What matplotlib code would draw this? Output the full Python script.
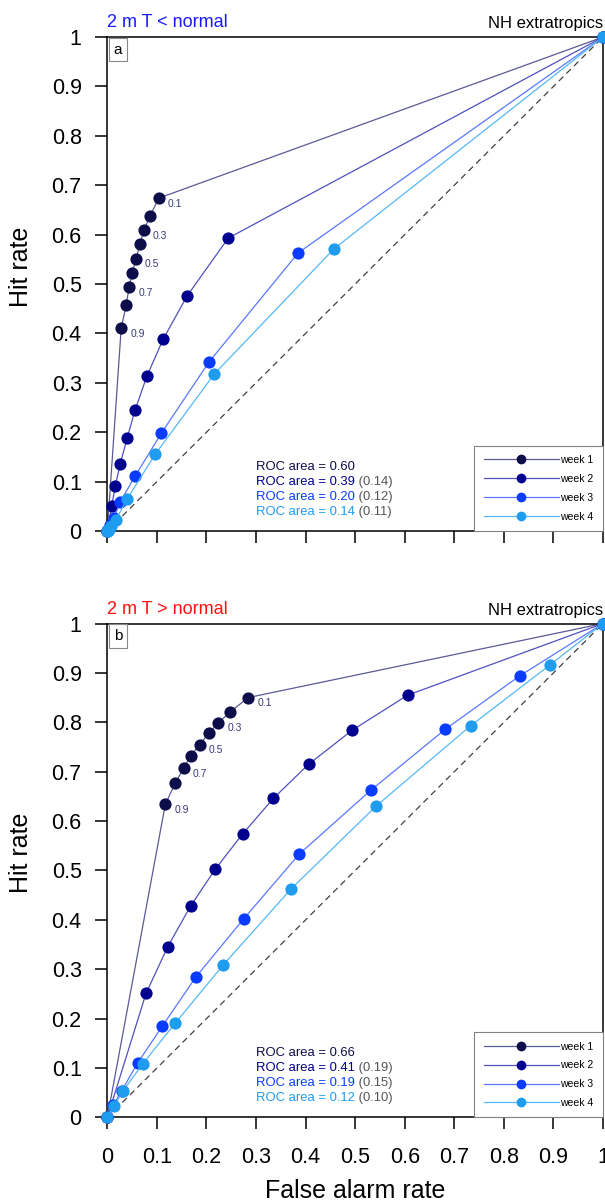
import numpy as np
import matplotlib.pyplot as plt
from matplotlib.lines import Line2D

plt.rcParams['font.family'] = ['Liberation Sans', 'DejaVu Sans']

weeks = ['week 1', 'week 2', 'week 3', 'week 4']
labelled = ['0.1', '0.3', '0.5', '0.7', '0.9']   # week 1 probability thresholds shown

# panel a: 2 m T below normal (points ordered threshold 0.1 -> 0.9)
cold_far = [
    [0.104, 0.086, 0.074, 0.066, 0.058, 0.050, 0.044, 0.038, 0.028],
    [0.244, 0.161, 0.113, 0.080, 0.056, 0.040, 0.026, 0.016, 0.009],
    [0.385, 0.205, 0.109, 0.056, 0.026, 0.013, 0.006, 0.003, 0.001],
    [0.457, 0.216, 0.097, 0.040, 0.017, 0.008, 0.004, 0.002, 0.001],
]
cold_hit = [
    [0.674, 0.638, 0.609, 0.581, 0.551, 0.522, 0.494, 0.457, 0.411],
    [0.593, 0.476, 0.389, 0.314, 0.245, 0.188, 0.136, 0.091, 0.051],
    [0.563, 0.342, 0.198, 0.111, 0.059, 0.026, 0.012, 0.005, 0.002],
    [0.571, 0.318, 0.156, 0.065, 0.022, 0.010, 0.005, 0.002, 0.001],
]
cold_area = ['0.60', '0.39', '0.20', '0.14']
cold_spread = ['', '(0.14)', '(0.12)', '(0.11)']

# panel b: 2 m T above normal
warm_far = [
    [0.284, 0.248, 0.224, 0.205, 0.186, 0.168, 0.154, 0.137, 0.117],
    [0.606, 0.494, 0.406, 0.335, 0.273, 0.218, 0.168, 0.122, 0.078],
    [0.832, 0.682, 0.531, 0.387, 0.275, 0.179, 0.111, 0.061, 0.029, 0.012],
    [0.894, 0.733, 0.543, 0.371, 0.234, 0.137, 0.071, 0.032, 0.014],
]
warm_hit = [
    [0.850, 0.821, 0.799, 0.778, 0.755, 0.732, 0.707, 0.677, 0.634],
    [0.855, 0.784, 0.715, 0.646, 0.574, 0.503, 0.428, 0.346, 0.251],
    [0.894, 0.786, 0.662, 0.533, 0.402, 0.285, 0.185, 0.110, 0.054, 0.025],
    [0.917, 0.793, 0.631, 0.463, 0.309, 0.191, 0.108, 0.054, 0.024],
]
warm_area = ['0.66', '0.41', '0.19', '0.12']
warm_spread = ['', '(0.19)', '(0.15)', '(0.10)']

dot_colors = ['#0d0d4a', '#00008f', '#0a3cff', '#1e9cf0']
line_colors = ['#5a5a96', '#5050c0', '#5a78ff', '#55b8f5']


def draw_panel(ax, far, hit, area, spread, title, tcolor, letter, bottom):
    ax.plot([0, 1], [0, 1], ls=(0, (5, 3.5)), color='#404040', lw=0.9, zorder=1)
    for i in range(4):
        # curve runs from (0,0) through the highest threshold down to (1,1)
        x = [0.0] + far[i][::-1] + [1.0]
        y = [0.0] + hit[i][::-1] + [1.0]
        ax.plot(x, y, color=line_colors[i], lw=0.9, zorder=2 + i, clip_on=False)
        ax.plot(x, y, 'o', ms=8.8, color=dot_colors[i], mec='none',
                zorder=2 + i, clip_on=False)
    # threshold labels on week 1
    for k, lab in enumerate(labelled):
        ax.annotate(lab, (far[0][2 * k], hit[0][2 * k]), xytext=(6.5, -4),
                    textcoords='offset points', fontsize=7.5, color='#3a3a78',
                    ha='left', va='center')

    for i in range(4):
        t = ax.text(0.30, 0.13 - i * 0.0305, 'ROC area = ' + area[i],
                    color=dot_colors[i], fontsize=9.4, va='center')
        if spread[i]:
            ax.annotate(' ' + spread[i], xy=(1, 0.5), xycoords=t,
                        color='#555555', fontsize=9.4, va='center')

    handles = [Line2D([], [], color=line_colors[i], lw=0.9, marker='o', ms=6,
                      mfc=dot_colors[i], mec=dot_colors[i]) for i in range(4)]
    leg = ax.legend(handles, weeks, loc='lower right', bbox_to_anchor=(1, 0),
                    borderaxespad=0, fontsize=7.5, handlelength=7.2,
                    handletextpad=0.15, numpoints=1, fancybox=False,
                    edgecolor='#808080', framealpha=1, borderpad=0.9,
                    labelspacing=0.85)
    leg.get_frame().set_linewidth(0.8)
    leg.set_zorder(10)

    ax.annotate(letter, xy=(0, 1), xycoords='axes fraction', xytext=(4.5, -4),
                textcoords='offset points', ha='left', va='top', fontsize=11,
                bbox=dict(boxstyle='square,pad=0.3', fc='white',
                          ec='#888888', lw=0.8), zorder=11)

    ax.text(0, 1.012, title, transform=ax.transAxes, color=tcolor,
            fontsize=13, ha='left', va='bottom')
    ax.text(1.0, 1.012, 'NH extratropics', transform=ax.transAxes,
            fontsize=12, ha='right', va='bottom')

    ticks = np.round(np.arange(0, 1.01, 0.1), 1)
    ticklabels = ['%g' % v for v in ticks]
    ax.set_xlim(0, 1)
    ax.set_ylim(0, 1)
    ax.set_xticks(ticks)
    ax.set_yticks(ticks)
    ax.set_yticklabels(ticklabels)
    ax.set_xticklabels(ticklabels)
    ax.tick_params(direction='out', length=8.5, width=1.1, labelsize=15.5,
                   pad=10)
    ax.tick_params(axis='x', pad=13, labelbottom=bottom)
    for s in ax.spines.values():
        s.set_linewidth(1.1)
    ax.set_ylabel('Hit rate', fontsize=18)
    ax.yaxis.set_label_coords(-0.15, 0.535)
    if bottom:
        ax.set_xlabel('False alarm rate', fontsize=18)
        ax.xaxis.set_label_coords(0.5, -0.125)


fig = plt.figure(figsize=(6.05, 12.03), dpi=100)
ax1 = fig.add_axes([0.1774, 0.5586, 0.8193, 0.4106])
ax2 = fig.add_axes([0.1774, 0.0711, 0.8193, 0.4106])

draw_panel(ax1, cold_far, cold_hit, cold_area, cold_spread,
           '2 m T < normal', '#1a1aff', 'a', False)
draw_panel(ax2, warm_far, warm_hit, warm_area, warm_spread,
           '2 m T > normal', '#ff1010', 'b', True)

fig.savefig('out.png', dpi=100)
